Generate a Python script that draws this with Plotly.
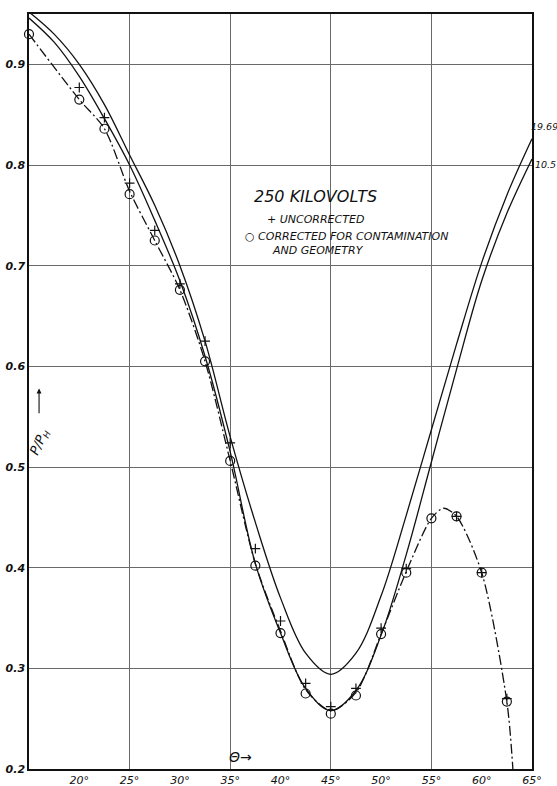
import plotly.graph_objects as go

# ---- data ----
theta_curve = [15, 17.5, 20, 22.5, 25, 27.5, 30, 32.5, 35, 37.5, 40, 42.5, 45,
               47.5, 50, 52.5, 55, 57.5, 60, 62.5, 65]
curve_1969 = [0.952, 0.930, 0.900, 0.860, 0.810, 0.760, 0.700, 0.625, 0.530, 0.445, 0.370, 0.315, 0.294,
              0.315, 0.372, 0.452, 0.537, 0.622, 0.703, 0.770, 0.826]
curve_105 = [0.946, 0.922, 0.888, 0.846, 0.800, 0.745, 0.685, 0.610, 0.515, 0.404, 0.335, 0.280, 0.258,
             0.278, 0.333, 0.413, 0.505, 0.597, 0.685, 0.752, 0.806]

fit_theta = [15, 20, 22.5, 25, 27.5, 30, 32.5, 35, 37.5, 40, 42.5, 45, 47.5, 50, 52.5, 55, 56.2, 57.5, 60, 62.5, 63.1]
fit_ratio = [0.930, 0.865, 0.836, 0.774, 0.725, 0.676, 0.605, 0.506, 0.404, 0.337, 0.279, 0.258, 0.276, 0.334,
             0.396, 0.449, 0.459, 0.451, 0.395, 0.267, 0.200]

unc_theta = [15, 20, 22.5, 25, 27.5, 30, 32.5, 35, 37.5, 40, 42.5, 45, 47.5, 50, 52.5, 57.5, 60, 62.5]
unc_ratio = [0.952, 0.877, 0.847, 0.782, 0.735, 0.682, 0.625, 0.524, 0.419, 0.347, 0.285, 0.262, 0.280, 0.340,
             0.399, 0.451, 0.395, 0.270]

cor_theta = [15, 20, 22.5, 25, 27.5, 30, 32.5, 35, 37.5, 40, 42.5, 45, 47.5, 50, 52.5, 55, 57.5, 60, 62.5]
cor_ratio = [0.930, 0.865, 0.836, 0.771, 0.725, 0.676, 0.605, 0.506, 0.402, 0.335, 0.275, 0.255, 0.273, 0.334,
             0.395, 0.449, 0.451, 0.395, 0.267]

x_tickvals = [20, 25, 30, 35, 40, 45, 50, 55, 60, 65]
x_ticktext = ["20°", "25°", "30°", "35°", "40°", "45°", "50°", "55°", "60°", "65°"]
x_gridvals = [25, 35, 45, 55]
y_tickvals = [0.2, 0.3, 0.4, 0.5, 0.6, 0.7, 0.8, 0.9]
y_ticktext = ["0.2", "0.3", "0.4", "0.5", "0.6", "0.7", "0.8", "0.9"]

FONT = "DejaVu Sans"
ink = "#111111"
grid = "#6a6a6a"

fig = go.Figure()

fig.add_trace(go.Scatter(x=theta_curve, y=curve_1969, mode="lines",
                         line=dict(color=ink, width=1.3, shape="spline", smoothing=1.0),
                         hoverinfo="skip"))
fig.add_trace(go.Scatter(x=theta_curve, y=curve_105, mode="lines",
                         line=dict(color=ink, width=1.3, shape="spline", smoothing=1.0),
                         hoverinfo="skip"))
fig.add_trace(go.Scatter(x=fit_theta, y=fit_ratio, mode="lines",
                         line=dict(color=ink, width=1.3, dash="10px,3px,2px,3px",
                                   shape="spline", smoothing=0.8),
                         hoverinfo="skip"))
fig.add_trace(go.Scatter(x=unc_theta, y=unc_ratio, mode="markers", cliponaxis=False,
                         marker=dict(symbol="cross-thin-open", size=7, color=ink,
                                     line=dict(color=ink, width=1.2))))
fig.add_trace(go.Scatter(x=cor_theta, y=cor_ratio, mode="markers", cliponaxis=False,
                         marker=dict(symbol="circle-open", size=9, color=ink,
                                     line=dict(color=ink, width=1.2))))
# helper trace for vertical grid lines on a second axis
fig.add_trace(go.Scatter(x=[15, 65], y=[0.2, 0.2], xaxis="x2", mode="lines",
                         line=dict(width=0), hoverinfo="skip"))

fig.update_layout(
    width=557, height=786,
    margin=dict(l=29, r=25, t=14, b=17, autoexpand=False),
    paper_bgcolor="white", plot_bgcolor="white",
    showlegend=False,
    font=dict(family=FONT, color=ink),
    xaxis=dict(range=[15, 65], tickvals=x_tickvals, ticktext=x_ticktext, automargin=False,
               showgrid=False, zeroline=False, ticks="",
               showline=True, linecolor=ink, linewidth=1.5, mirror=True,
               tickfont=dict(family=FONT, size=11, style="italic")),
    xaxis2=dict(range=[15, 65], overlaying="x", matches="x", tickvals=x_gridvals, automargin=False,
                showticklabels=False, showgrid=True, gridcolor=grid, gridwidth=1,
                zeroline=False, ticks="", showline=False),
    yaxis=dict(range=[0.2, 0.95], tickvals=y_tickvals, ticktext=y_ticktext, automargin=False,
               showgrid=True, gridcolor=grid, gridwidth=1, zeroline=False, ticks="",
               showline=True, linecolor=ink, linewidth=1.5, mirror=True,
               tickfont=dict(family=FONT, size=11, style="italic", weight="bold")),
)

ann = [
    dict(x=37.2, y=0.769, text="250 KILOVOLTS", xanchor="left", yanchor="middle",
         font=dict(size=16, style="italic")),
    dict(x=38.5, y=0.746, text="+ UNCORRECTED", xanchor="left", yanchor="middle",
         font=dict(size=11, style="italic")),
    dict(x=36.3, y=0.729, text="○ CORRECTED FOR CONTAMINATION", xanchor="left", yanchor="middle",
         font=dict(size=11, style="italic")),
    dict(x=38.95, y=0.715, text="AND GEOMETRY", xanchor="left", yanchor="middle",
         font=dict(size=11, style="italic")),
    dict(x=16.1, y=0.524, text="P/P<sub>H</sub>", textangle=-65,
         font=dict(size=13, style="italic")),
    dict(x=36.0, y=0.212, text="Θ→", font=dict(size=14, style="italic")),
]
for a in ann:
    a.setdefault("showarrow", False)
    a["xref"] = "x"
    a["yref"] = "y"
fig.update_layout(annotations=ann)
# curve labels just outside the right edge (paper coordinates)
fig.add_annotation(x=0.994, y=0.851, xref="paper", yref="paper", text="19.69",
                   xanchor="left", yanchor="middle", showarrow=False,
                   font=dict(size=9.5, style="italic"))
fig.add_annotation(x=1.002, y=0.800, xref="paper", yref="paper", text="10.5",
                   xanchor="left", yanchor="middle", showarrow=False,
                   font=dict(size=9.5, style="italic"))
fig.add_annotation(x=16.0, y=0.578, ax=16.0, ay=0.552, xref="x", yref="y",
                   axref="x", ayref="y", text="", showarrow=True,
                   arrowhead=2, arrowsize=0.9, arrowwidth=1.1, arrowcolor=ink)

fig.write_html("out.html", config={"displayModeBar": False},
               post_script="document.body.style.margin='0px';document.body.style.overflow='hidden';")
